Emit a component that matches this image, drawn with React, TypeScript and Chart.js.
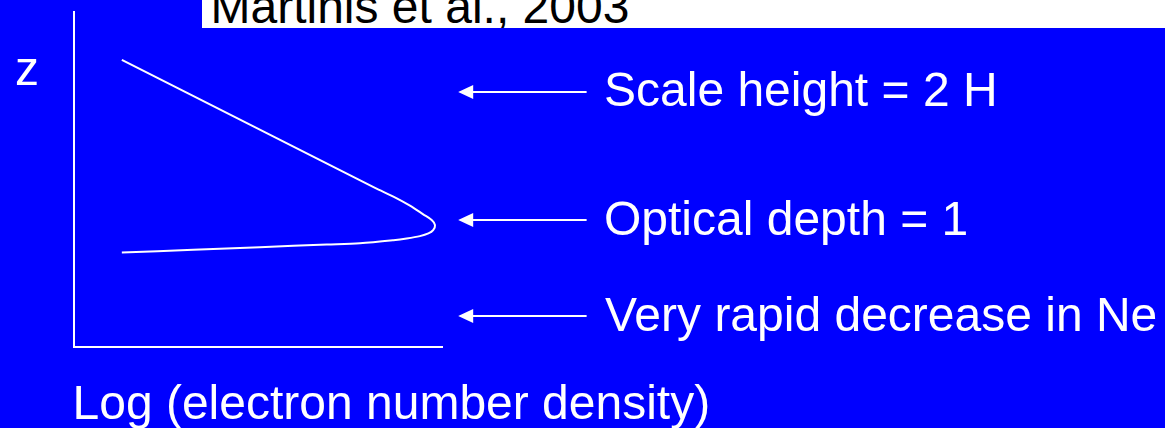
import React, { useEffect, useRef } from "react";
import { Chart, registerables } from "chart.js";

Chart.register(...registerables);

// Electron density profile (x: log Ne, arbitrary units; y: altitude z, arbitrary units)
const PROFILE_LOG_NE = [13.0, 47.4, 81.8, 86.8, 91.3, 94.9, 97.2, 98.1, 97.6, 96.3, 94.0, 90.4, 86.8, 77.7, 68.7, 50.5, 32.4, 13.0];
const PROFILE_Z = [85.7, 66.6, 47.5, 44.9, 42.2, 39.6, 37.9, 36.4, 34.9, 33.9, 33.1, 32.4, 31.9, 31.0, 30.6, 29.8, 29.0, 28.2];

// Annotation arrows: altitude of each arrow and its horizontal extent (x units)
const ARROW_Z = [76.0, 37.9, 9.25];
const ARROW_LOG_NE_FROM = 104.4;
const ARROW_LOG_NE_TO = 139.3;
const ANNOTATION_LABELS = ["Scale height = 2 H", "Optical depth = 1", "Very rapid decrease in Ne"];

const X_RANGE = [0, 100];
const Y_RANGE = [0, 100];

const X_AXIS_TITLE = "Log (electron number density)";
const Y_AXIS_TITLE = "z";
const SOURCE_LABEL = "Martinis et al., 2003";

const W = 1165;
const H = 428;
const FONT = '"Liberation Sans", Arial, Helvetica, sans-serif';
const BASE = 40.64; // baseline offset for 48px font with 48px line-height

const arrowPlugin = {
  id: "arrowAnnotations",
  afterDatasetsDraw(chart: any) {
    const { ctx, scales } = chart;
    const xs = scales.x;
    const ys = scales.y;
    ctx.save();
    ctx.strokeStyle = "#ffffff";
    ctx.fillStyle = "#ffffff";
    ctx.lineWidth = 2;
    ARROW_Z.forEach((z) => {
      const py = Math.round(ys.getPixelForValue(z));
      const x0 = xs.getPixelForValue(ARROW_LOG_NE_FROM);
      const x1 = xs.getPixelForValue(ARROW_LOG_NE_TO);
      ctx.beginPath();
      ctx.moveTo(x0 + 10, py);
      ctx.lineTo(x1, py);
      ctx.stroke();
      ctx.beginPath();
      ctx.moveTo(x0, py);
      ctx.lineTo(x0 + 15, py - 7);
      ctx.lineTo(x0 + 15, py + 7);
      ctx.closePath();
      ctx.fill();
    });
    ctx.restore();
  },
};

function Label({ text, left, baseline, color = "#ffffff" }: { text: string; left: number; baseline: number; color?: string }) {
  return (
    <div
      style={{
        position: "absolute",
        left,
        top: baseline - BASE,
        fontFamily: FONT,
        fontSize: 48,
        lineHeight: "48px",
        color,
        whiteSpace: "nowrap",
      }}
    >
      {text}
    </div>
  );
}

export default function App() {
  const canvasRef = useRef<HTMLCanvasElement | null>(null);

  useEffect(() => {
    const canvas = canvasRef.current;
    if (!canvas) return;
    const data = PROFILE_LOG_NE.map((x, i) => ({ x, y: PROFILE_Z[i] }));
    const chart = new Chart(canvas, {
      type: "scatter",
      data: {
        datasets: [
          {
            data,
            showLine: true,
            borderColor: "#ffffff",
            backgroundColor: "#ffffff",
            borderWidth: 2,
            pointRadius: 0,
            tension: 0.3,
            fill: false,
            clip: false as any,
          },
        ],
      },
      options: {
        responsive: false,
        animation: false,
        devicePixelRatio: 1,
        layout: { padding: { left: 74, top: 12, right: W - 442, bottom: H - 347 } },
        plugins: { legend: { display: false }, tooltip: { enabled: false }, title: { display: false } },
        scales: {
          x: {
            type: "linear",
            min: X_RANGE[0],
            max: X_RANGE[1],
            ticks: { display: false },
            grid: { display: false, drawTicks: false },
            border: { display: true, color: "#ffffff", width: 2 },
          },
          y: {
            type: "linear",
            min: Y_RANGE[0],
            max: Y_RANGE[1],
            ticks: { display: false },
            grid: { display: false, drawTicks: false },
            border: { display: true, color: "#ffffff", width: 2 },
          },
        },
      },
      plugins: [arrowPlugin],
    });
    return () => chart.destroy();
  }, []);

  return (
    <div
      style={{
        position: "fixed",
        left: 0,
        top: 0,
        width: W,
        height: H,
        background: "#0000ff",
        overflow: "hidden",
      }}
    >
      <canvas ref={canvasRef} width={W} height={H} style={{ position: "absolute", left: 0, top: 0, width: W, height: H }} />
      <div
        style={{
          position: "absolute",
          left: 202,
          top: 0,
          width: W - 202,
          height: 28,
          background: "#ffffff",
          overflow: "hidden",
        }}
      >
        <Label text={SOURCE_LABEL} left={8.5} baseline={24} color="#000000" />
      </div>
      <Label text={Y_AXIS_TITLE} left={15} baseline={86} />
      <Label text={ANNOTATION_LABELS[0]} left={604} baseline={106.5} />
      <Label text={ANNOTATION_LABELS[1]} left={604} baseline={235.5} />
      <Label text={ANNOTATION_LABELS[2]} left={605} baseline={331.5} />
      <Label text={X_AXIS_TITLE} left={72.5} baseline={419.5} />
    </div>
  );
}
